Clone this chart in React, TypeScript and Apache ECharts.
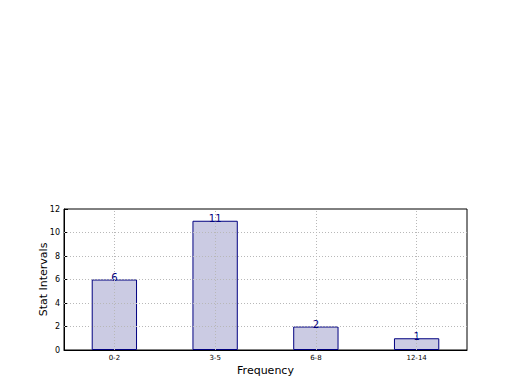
import React, { useEffect, useRef } from "react";
import * as echarts from "echarts";

const categories = ["0-2", "3-5", "6-8", "12-14"];
const counts = [6, 11, 2, 1];
const gridValues = [2, 4, 6, 8, 10];

export default function App() {
  const ref = useRef<HTMLDivElement>(null);
  useEffect(() => {
    const chart = echarts.init(ref.current!, null, { renderer: "svg" });
    const font = "DejaVu Sans";
    const gridStyle = { type: [1, 2] as any, color: "#b8b8b8", width: 1 };
    chart.setOption({
      animation: false,
      textStyle: { fontFamily: font },
      grid: {
        left: 64,
        right: 53,
        top: 209,
        bottom: 40,
        show: true,
        borderColor: "#000",
        borderWidth: 1,
        backgroundColor: "transparent",
      },
      xAxis: {
        type: "category",
        data: categories,
        name: "Frequency",
        nameLocation: "middle",
        nameGap: 15,
        nameTextStyle: { fontSize: 11, color: "#000", fontFamily: font },
        axisLine: { lineStyle: { color: "#000" } },
        axisTick: { show: true, inside: true, alignWithLabel: true, length: 4, lineStyle: { color: "#000" } },
        axisLabel: { fontSize: 7, color: "#000", margin: 4, fontFamily: font },
        splitLine: { show: false },
      },
      yAxis: {
        type: "value",
        min: 0,
        max: 12,
        interval: 2,
        name: "Stat Intervals",
        nameLocation: "middle",
        nameGap: 15,
        nameMoveOverlap: false,
        nameTextStyle: { fontSize: 11, color: "#000", fontFamily: font },
        axisLine: { show: true, lineStyle: { color: "#000" } },
        axisTick: { show: true, inside: true, length: 4, lineStyle: { color: "#000" } },
        axisLabel: { fontSize: 8, color: "#000", margin: 4, fontFamily: font },
        splitLine: { show: false },
      },
      series: [
        {
          type: "bar",
          data: counts,
          barWidth: "45%",
          itemStyle: { color: "#cbcbe3", borderColor: "#000080", borderWidth: 1 },
          label: {
            show: true,
            position: "top",
            distance: -3,
            fontSize: 10,
            color: "#000080",
            fontFamily: font,
          },
          markLine: {
            silent: true,
            symbol: "none",
            label: { show: false },
            lineStyle: gridStyle,
            data: [
              ...categories.map((c) => ({ xAxis: c })),
              ...gridValues.map((v) => ({ yAxis: v })),
            ],
          },
        },
      ],
    });
    return () => chart.dispose();
  }, []);
  return <div ref={ref} style={{ width: 520, height: 390, position: "absolute", left: 0, top: 0 }} />;
}
